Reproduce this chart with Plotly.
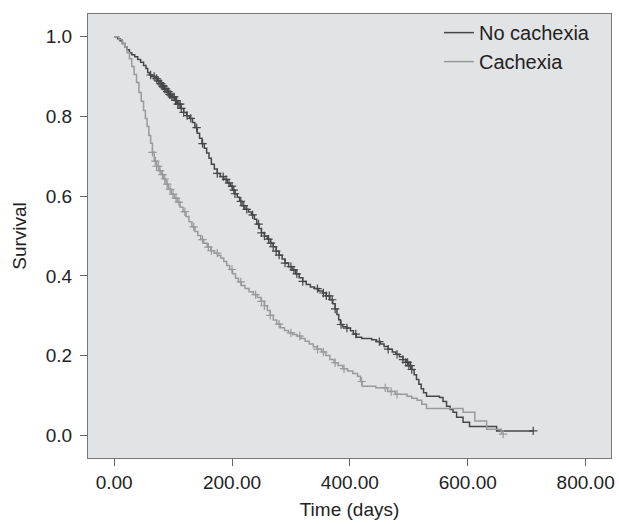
import numpy as np
import plotly.graph_objects as go

# Kaplan-Meier step knots
no_cach_t = [0, 6, 10, 14, 18, 22, 26, 30, 35, 40, 45, 50, 54, 57, 60, 65, 70, 74, 78, 82, 86, 90, 94, 98,
             103, 108, 113, 118, 123, 128, 133, 137, 141, 145, 149, 153, 157, 161, 165, 170, 175, 180, 186,
             192, 197, 201, 205, 209, 213, 217, 222, 228, 233, 238, 242, 246, 250, 255, 260, 265, 270, 275,
             280, 285, 290, 296, 302, 308, 314, 320, 326, 333, 340, 347, 354, 360, 366, 371, 375, 378, 381,
             384, 388, 395, 401, 406, 411, 420, 437, 445, 452, 458, 465, 472, 478, 484, 490, 495, 500, 505,
             509, 513, 517, 521, 525, 530, 552, 558, 564, 570, 575, 581, 592, 603, 649, 711]
no_cach_s = [1.0, 0.995, 0.99, 0.983, 0.975, 0.967, 0.96, 0.955, 0.95, 0.943, 0.936, 0.928, 0.92, 0.91,
             0.904, 0.90, 0.895, 0.889, 0.882, 0.876, 0.869, 0.862, 0.855, 0.849, 0.84, 0.831, 0.82, 0.81,
             0.802, 0.795, 0.785, 0.772, 0.758, 0.745, 0.732, 0.72, 0.708, 0.695, 0.68, 0.668, 0.657, 0.649,
             0.642, 0.633, 0.625, 0.615, 0.606, 0.597, 0.587, 0.576, 0.567, 0.56, 0.553, 0.542, 0.53, 0.519,
             0.508, 0.5, 0.492, 0.482, 0.473, 0.462, 0.452, 0.442, 0.432, 0.423, 0.415, 0.405, 0.395, 0.386,
             0.378, 0.372, 0.368, 0.362, 0.357, 0.35, 0.34, 0.33, 0.317, 0.303, 0.29, 0.278, 0.272, 0.269,
             0.262, 0.254, 0.246, 0.243, 0.240, 0.235, 0.229, 0.223, 0.216, 0.209, 0.203, 0.197, 0.19, 0.183,
             0.175, 0.165, 0.152, 0.14, 0.128, 0.117, 0.107, 0.098, 0.095, 0.085, 0.073, 0.065, 0.058, 0.045,
             0.033, 0.022, 0.011, 0.011]

cach_t = [0, 8, 14, 18, 22, 26, 30, 34, 38, 42, 46, 50, 53, 56, 59, 62, 65, 68, 72, 76, 80, 84, 88, 92, 97,
          102, 107, 112, 117, 122, 127, 132, 137, 142, 147, 152, 158, 164, 170, 176, 181, 186, 191, 196, 201,
          206, 211, 216, 222, 229, 236, 243, 249, 255, 260, 265, 270, 276, 282, 289, 296, 303, 310, 317, 324,
          331, 338, 345, 352, 359, 366, 373, 380, 388, 396, 405, 413, 418, 421, 444, 464, 477, 497, 505, 514,
          522, 530, 592, 612, 632, 657]
cach_s = [1.0, 0.993, 0.983, 0.975, 0.96, 0.945, 0.925, 0.905, 0.885, 0.86, 0.838, 0.815, 0.795, 0.775,
          0.752, 0.733, 0.71, 0.688, 0.675, 0.664, 0.654, 0.643, 0.630, 0.617, 0.605, 0.595, 0.585, 0.572,
          0.561, 0.549, 0.536, 0.523, 0.511, 0.501, 0.491, 0.482, 0.472, 0.463, 0.457, 0.451, 0.445, 0.436,
          0.426, 0.416, 0.405, 0.394, 0.385, 0.376, 0.368, 0.36, 0.353, 0.346, 0.336, 0.325, 0.313, 0.301,
          0.289, 0.279, 0.27, 0.263, 0.257, 0.253, 0.249, 0.243, 0.236, 0.229, 0.222, 0.216, 0.209, 0.2, 0.19,
          0.182, 0.175, 0.167, 0.161, 0.155, 0.148, 0.135, 0.123, 0.119, 0.110, 0.103, 0.098, 0.093, 0.088,
          0.078, 0.067, 0.058, 0.036, 0.015, 0.003]

# censored observation times
no_cach_cens = [62, 68, 72, 75, 78, 80, 82, 84, 86, 88, 90, 92, 94, 96, 98, 100, 102, 104, 106, 108, 110,
                112, 114, 118, 124, 130, 140, 150, 175, 185, 190, 195, 200, 203, 205, 215, 220, 225, 235,
                245, 250, 255, 262, 266, 270, 275, 280, 290, 300, 305, 310, 320, 345, 355, 360, 365, 370,
                375, 385, 395, 410, 450, 465, 480, 490, 495, 498, 500, 503, 505, 711]
cach_cens = [65, 70, 72, 75, 78, 82, 86, 90, 95, 100, 105, 110, 120, 135, 150, 160, 165, 175, 200, 215,
             240, 250, 255, 265, 280, 300, 315, 345, 355, 375, 390, 420, 460, 470, 480, 660]

x_ticks = [0, 200, 400, 600, 800]
x_tick_labels = ["0.00", "200.00", "400.00", "600.00", "800.00"]
y_ticks = [0.0, 0.2, 0.4, 0.6, 0.8, 1.0]
y_tick_labels = ["0.0", "0.2", "0.4", "0.6", "0.8", "1.0"]

DARK = "#474747"
LIGHT = "#9a9a9a"


def step_at(ts, ss, q):
    ts = np.asarray(ts, float)
    ss = np.asarray(ss, float)
    idx = np.searchsorted(ts, np.asarray(q, float), side="right") - 1
    idx = np.clip(idx, 0, len(ss) - 1)
    return ss[idx]


fig = go.Figure()
for name, t, s, cens, col in [
    ("No cachexia", no_cach_t, no_cach_s, no_cach_cens, DARK),
    ("Cachexia", cach_t, cach_s, cach_cens, LIGHT),
]:
    fig.add_trace(go.Scatter(x=t, y=s, mode="lines", name=name, legendgroup=name,
                             line=dict(color=col, width=1.5, shape="hv")))
    fig.add_trace(go.Scatter(x=cens, y=step_at(t, s, cens), mode="markers", showlegend=False,
                             legendgroup=name,
                             marker=dict(symbol="cross-thin", size=6, line=dict(color=col, width=1.2))))

font = "Liberation Sans, Arial, sans-serif"
fig.update_layout(
    width=619, height=524,
    margin=dict(l=88, r=8, t=14, b=66),
    paper_bgcolor="white", plot_bgcolor="#e2e3e5",
    font=dict(family=font, size=19, color="#222"),
    showlegend=True,
    legend=dict(x=0.671, y=1.002, xanchor="left", yanchor="top", bgcolor="rgba(0,0,0,0)",
                font=dict(size=20), tracegroupgap=0, itemwidth=30),
    xaxis=dict(range=[-44.3, 843], tickvals=x_ticks, ticktext=x_tick_labels, ticks="outside", ticklen=7,
               tickcolor="#666", showgrid=False, zeroline=False, showline=True, linecolor="#777",
               mirror=True, linewidth=1.2, automargin=False, ticklabeloverflow="allow",
               title=dict(text="Time (days)", font=dict(size=19), standoff=10)),
    yaxis=dict(range=[-0.057, 1.057], tickvals=y_ticks, ticktext=y_tick_labels, ticks="outside", ticklen=7,
               tickcolor="#666", showgrid=False, zeroline=False, showline=True, linecolor="#777",
               mirror=True, linewidth=1.2, automargin=False, ticklabelstandoff=4,
               title=dict(text="Survival", font=dict(size=19), standoff=14)),
)
fig.write_html("out.html", config={"displayModeBar": False},
               post_script="document.body.style.margin='0';document.body.style.overflow='hidden';")
